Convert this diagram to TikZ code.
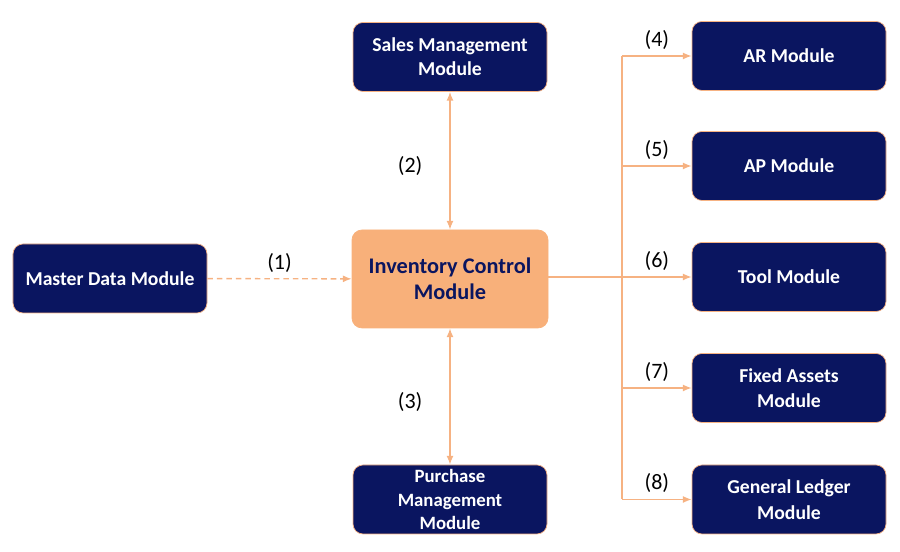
\documentclass[tikz,border=0pt]{standalone}
\usepackage{fontspec}
\setmainfont{Carlito}
\usetikzlibrary{arrows.meta}
\definecolor{navy}{RGB}{10,21,96}
\definecolor{peach}{RGB}{248,176,122}
\definecolor{linkc}{RGB}{246,178,130}
\tikzset{
  module/.style={rectangle, rounded corners=0.2cm, draw=linkc, line width=0.4pt, fill=navy,
    text=white, font=\bfseries\fontsize{11.2}{14.5}\selectfont, align=center,
    minimum width=3.88cm, minimum height=1.38cm, inner sep=1pt},
  link/.style={draw=linkc, line width=0.8pt, -{Latex[length=5pt,width=4pt]}},
  tag/.style={font=\fontsize{12.5}{14}\selectfont, text=black}
}
\begin{document}
\begin{tikzpicture}
    \useasboundingbox (0,0) rectangle (18,11.04);
    % ノードの定義
    \node[module] (master) at (2.2, 5.47) {Master Data Module};
    \node[module, font=\bfseries\fontsize{11.2}{13.6}\selectfont] (sales) at (9.0, 9.9) {Sales Management\\Module};
    \node[module, fill=peach, text=navy, draw=peach, font=\bfseries\fontsize{12.7}{14.8}\selectfont,
      minimum width=3.92cm, minimum height=1.96cm] (inv) at (9.0, 5.46) {Inventory Control\\Module};
    \node[module, font=\bfseries\fontsize{10.7}{13.3}\selectfont] (purchase) at (9.0, 1.05) {Purchase\\Management\\Module};
    \node[module] (ar) at (15.78, 9.92) {AR Module};
    \node[module] (ap) at (15.78, 7.72) {AP Module};
    \node[module] (tool) at (15.78, 5.5) {Tool Module};
    \node[module] (fixed) at (15.78, 3.28) {Fixed Assets\\Module};
    \node[module] (gl) at (15.78, 1.05) {General Ledger\\Module};

    % 分岐点
    \coordinate (fork) at (12.44, 5.5);

    % エッジとラベルを描く
    \draw[link, dash pattern=on 3.2pt off 2.2pt] (master) -- (inv) node[midway, above=0pt, tag] {(1)};
    \draw[link, {Latex[length=5pt,width=4pt]}-{Latex[length=5pt,width=4pt]}] (sales) -- (inv) node[pos=0.54, left=12pt, tag] {(2)};
    \draw[link, {Latex[length=5pt,width=4pt]}-{Latex[length=5pt,width=4pt]}] (inv) -- (purchase) node[pos=0.54, left=12pt, tag] {(3)};
    \draw[link, -] (inv.east |- fork) -- (fork);
    \draw[link] (fork |- ar) -- (ar) node[midway, above=0pt, tag] {(4)};
    \draw[link] (fork |- ap) -- (ap) node[midway, above=0pt, tag] {(5)};
    \draw[link] (fork) -- (tool) node[midway, above=0pt, tag] {(6)};
    \draw[link] (fork |- fixed) -- (fixed) node[midway, above=0pt, tag] {(7)};
    \draw[link] (fork |- gl) -- (gl) node[midway, above=0pt, tag] {(8)};
    \draw[link, -] (fork |- ar) -- (fork |- gl);

  \end{tikzpicture}
\end{document}
